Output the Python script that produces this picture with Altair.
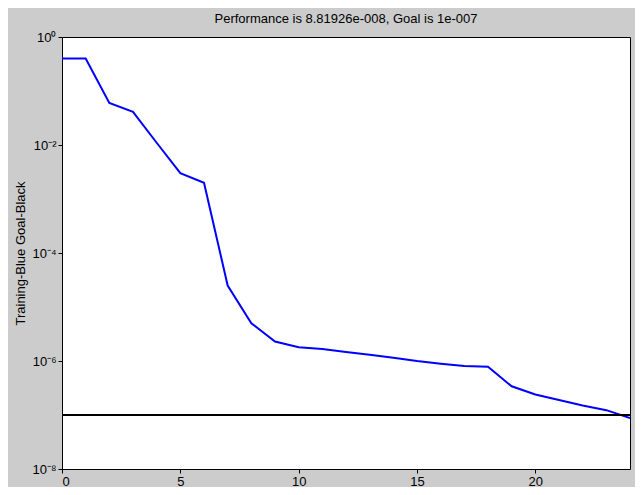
import altair as alt
import pandas as pd

# training performance per epoch
epochs = list(range(25))
perf = [0.40, 0.40, 0.06, 0.041, 0.011, 0.003, 0.002, 2.5e-5, 5e-6, 2.3e-6,
        1.8e-6, 1.66e-6, 1.47e-6, 1.3e-6, 1.15e-6, 1.0e-6, 8.9e-7, 8.1e-7,
        7.8e-7, 3.4e-7, 2.4e-7, 1.9e-7, 1.5e-7, 1.23e-7, 8.82e-8]
goal = 1e-7
y_ticks = [1e0, 1e-2, 1e-4, 1e-6, 1e-8]

df = pd.DataFrame({"epoch": epochs, "perf": perf})

sup = "{'0':'⁰','-2':'⁻²','-4':'⁻⁴','-6':'⁻⁶','-8':'⁻⁸'}"
xs = alt.Scale(domain=[0, 24], nice=False, zero=False)
ys = alt.Scale(type="log", domain=[1e-8, 1], nice=False)

line = alt.Chart(df).mark_line(color="#0000ff", strokeWidth=2, clip=True).encode(
    x=alt.X("epoch:Q", scale=xs,
            axis=alt.Axis(values=[0, 5, 10, 15, 20], title=None, grid=False,
                          tickSize=4, labelFontSize=13, labelColor="black",
                          domain=False, tickColor="black", labelFont="Arial", labelPadding=2)),
    y=alt.Y("perf:Q", scale=ys,
            axis=alt.Axis(values=y_ticks, title="Training-Blue  Goal-Black",
                          titleFontSize=13, titleFontWeight="normal", titleFont="Arial",
                          grid=False, tickSize=4, labelFontSize=13, labelColor="black",
                          domain=False, tickColor="black", labelFont="Arial",
                          labelExpr="'10' + " + sup + "[round(log(datum.value)/LN10) + '']")),
)

goal_rule = alt.Chart(pd.DataFrame({"g": [goal]})).mark_rule(color="black", strokeWidth=2).encode(
    y=alt.Y("g:Q", scale=ys)
)

chart = (line + goal_rule).properties(
    width=568, height=432,
    background="#cccccc",
    padding={"left": 54, "top": 29, "right": 5, "bottom": 18},
    autosize=alt.AutoSizeParams(type="none"),
    title=alt.TitleParams("Performance is 8.81926e-008, Goal is 1e-007",
                          fontSize=13, fontWeight="normal", font="Arial", offset=5),
).configure_view(fill="white", stroke="black", strokeWidth=1)

chart.save("out.html", embed_options={"renderer": "svg", "actions": False})
